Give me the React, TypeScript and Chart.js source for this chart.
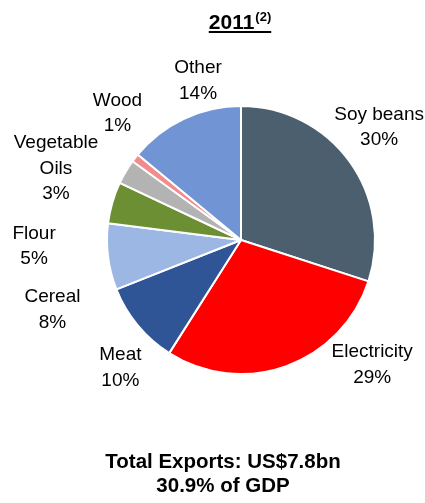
import React, { useEffect, useRef } from "react";
import { Chart, registerables } from "chart.js";

Chart.register(...registerables);

const categories = ["Soy beans", "Electricity", "Meat", "Cereal", "Flour", "Vegetable Oils", "Wood", "Other"];
const categoryLines = [["Soy beans"], ["Electricity"], ["Meat"], ["Cereal"], ["Flour"], ["Vegetable", "Oils"], ["Wood"], ["Other"]];
const shares = [30, 29, 10, 8, 5, 3, 1, 14];
const sliceColors = ["#4b5f6f", "#ff0000", "#2f5597", "#9cb7e3", "#6d8f33", "#b3b3b3", "#f28b8b", "#7094d4"];
const titleYear = "2011";
const titleNote = "(2)";
const footerLines = ["Total Exports: US$7.8bn", "30.9% of GDP"];

// label placement: angle (deg clockwise from top) and distance as multiple of radius
const labelAngle = [50.8, 133.5, 223.4, 249.7, 268.3, 291.1, 315.7, 344.9];
const labelDist = [1.33, 1.35, 1.31, 1.5, 1.545, 1.48, 1.32, 1.23];

const FONT = "'Liberation Sans', Arial, sans-serif";

const annotations = {
  id: "annotations",
  afterDraw(chart: any) {
    const ctx = chart.ctx;
    const meta = chart.getDatasetMeta(0);
    const arc0 = meta.data[0];
    const cx = arc0.x;
    const cy = arc0.y;
    const R = arc0.outerRadius;
    ctx.save();
    ctx.fillStyle = "#000";
    ctx.textAlign = "center";
    ctx.textBaseline = "middle";
    ctx.font = `19px ${FONT}`;
    const lh = 25.5;
    categories.forEach((_, i) => {
      const a = (labelAngle[i] * Math.PI) / 180;
      const x = cx + R * labelDist[i] * Math.sin(a);
      const y = cy - R * labelDist[i] * Math.cos(a);
      const lines = [...categoryLines[i], `${shares[i]}%`];
      const y0 = y - ((lines.length - 1) * lh) / 2;
      lines.forEach((t, k) => ctx.fillText(t, x, y0 + k * lh));
    });

    // title
    ctx.textBaseline = "alphabetic";
    ctx.textAlign = "left";
    ctx.font = `bold 21px ${FONT}`;
    const wYear = ctx.measureText(titleYear).width;
    ctx.font = `bold 13px ${FONT}`;
    const wNote = ctx.measureText(titleNote).width;
    const total = wYear + wNote + 1;
    const tx = cx - 1 - total / 2;
    const ty = 29;
    ctx.font = `bold 21px ${FONT}`;
    ctx.fillText(titleYear, tx, ty);
    ctx.font = `bold 13px ${FONT}`;
    ctx.fillText(titleNote, tx + wYear + 1, ty - 8);
    ctx.fillRect(tx, ty + 2, total, 2);

    // footer
    ctx.textAlign = "center";
    ctx.textBaseline = "middle";
    ctx.font = `bold 20.5px ${FONT}`;
    ctx.fillText(footerLines[0], 223, 462);
    ctx.fillText(footerLines[1], 223, 486);
    ctx.restore();
  },
};

export default function App() {
  const ref = useRef<HTMLCanvasElement>(null);
  useEffect(() => {
    if (!ref.current) return;
    const chart = new Chart(ref.current, {
      type: "pie",
      data: {
        labels: categories,
        datasets: [
          {
            data: shares,
            backgroundColor: sliceColors,
            borderColor: "#ffffff",
            borderWidth: 2,
          },
        ],
      },
      options: {
        responsive: false,
        animation: false,
        radius: 134,
        layout: { padding: { left: 107, right: 50, top: 106, bottom: 129 } },
        plugins: {
          legend: { display: false },
          tooltip: { enabled: false },
          title: { display: false },
        },
      } as any,
      plugins: [annotations],
    });
    return () => chart.destroy();
  }, []);
  return (
    <div style={{ position: "absolute", left: 0, top: 0, width: 425, height: 503, background: "#fff" }}>
      <canvas ref={ref} width={425} height={503} style={{ display: "block" }} />
    </div>
  );
}
